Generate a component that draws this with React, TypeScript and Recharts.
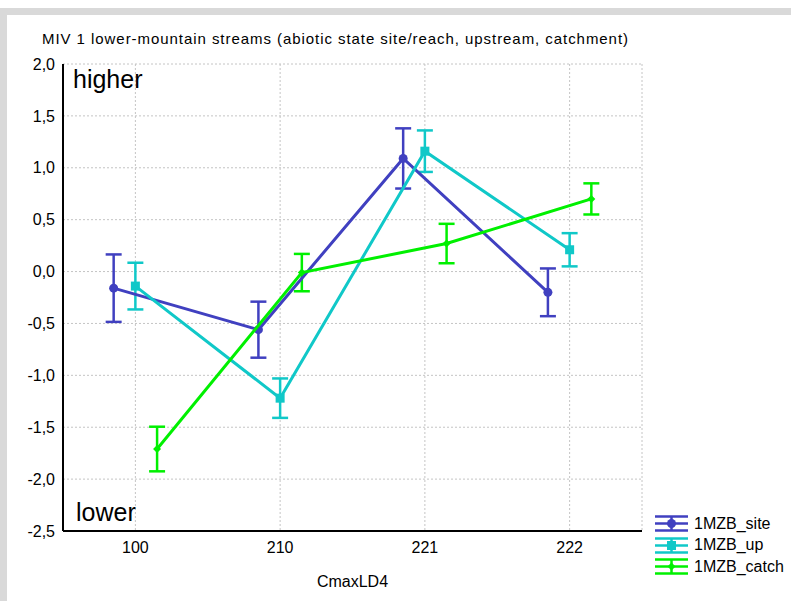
import React from 'react';
import { ScatterChart, Scatter, XAxis, YAxis, CartesianGrid, ErrorBar } from 'recharts';

// CmaxLD4 classes on the x axis
const categories = ['100', '210', '221', '222'];

// means and error half-widths
const siteMeans = [-0.16, -0.56, 1.09, -0.2];
const siteErrors = [0.325, 0.27, 0.29, 0.23];
const upMeans = [-0.14, -1.22, 1.16, 0.21];
const upErrors = [0.225, 0.19, 0.2, 0.16];
const catchMeans = [-1.71, -0.01, 0.27, 0.7];
const catchErrors = [0.215, 0.18, 0.19, 0.15];

const yTicks = [-2.5, -2, -1.5, -1, -0.5, 0, 0.5, 1, 1.5, 2];

const FONT = '"Liberation Sans", Arial, sans-serif';

const series = [
  { name: '1MZB_site', color: '#4040c0', marker: 'circle', shift: -0.15, means: siteMeans, errors: siteErrors },
  { name: '1MZB_up', color: '#10c8c8', marker: 'square', shift: 0, means: upMeans, errors: upErrors },
  { name: '1MZB_catch', color: '#00f000', marker: 'diamond', shift: 0.15, means: catchMeans, errors: catchErrors },
];

const drawMarker = (kind: string, color: string, cx: number, cy: number) => {
  if (kind === 'circle') return <circle cx={cx} cy={cy} r={4.5} fill={color} />;
  if (kind === 'square') return <rect x={cx - 4.5} y={cy - 4.5} width={9} height={9} fill={color} />;
  return <path d={`M${cx} ${cy - 4}L${cx + 4} ${cy}L${cx} ${cy + 4}L${cx - 4} ${cy}Z`} fill={color} />;
};

const fmt = (v: number) => v.toFixed(1).replace('.', ',');

const LegendIcon = ({ color, marker }: { color: string; marker: string }) => (
  <svg width={33} height={17} style={{ display: 'block' }}>
    <line x1={0} y1={1.5} x2={33} y2={1.5} stroke={color} strokeWidth={2.5} />
    <line x1={0} y1={8.5} x2={33} y2={8.5} stroke={color} strokeWidth={2.5} />
    <line x1={0} y1={15.5} x2={33} y2={15.5} stroke={color} strokeWidth={2.5} />
    <line x1={16.5} y1={1} x2={16.5} y2={16} stroke={color} strokeWidth={2.5} />
    {drawMarker(marker, color, 16.5, 8.5)}
  </svg>
);

export default function App() {
  return (
    <div style={{ position: 'fixed', left: 0, top: 0, width: 791, height: 601, background: '#fff', fontFamily: FONT }}>
      <div style={{ position: 'absolute', left: 0, top: 8, width: 791, height: 7, background: '#d9d9d9' }} />
      <div style={{ position: 'absolute', left: 0, top: 8, width: 7, height: 593, background: '#d9d9d9' }} />

      <svg width={791} height={60} style={{ position: 'absolute', left: 0, top: 0 }}>
        <text x={42} y={44} fontSize={15} fontFamily={FONT} textLength={586} lengthAdjust="spacing" fill="#000">
          MIV 1 lower-mountain streams (abiotic state site/reach, upstream, catchment)
        </text>
      </svg>

      <div style={{ position: 'absolute', left: 0, top: 0 }}>
        <ScatterChart width={791} height={601} margin={{ top: 64, right: 149, bottom: 0, left: 0 }}>
          <CartesianGrid stroke="#c4c4c4" strokeDasharray="2 2" />
          <XAxis
            type="number"
            dataKey="x"
            domain={[-0.5, 3.5]}
            ticks={[0, 1, 2, 3]}
            tickFormatter={(v: number) => categories[v] ?? ''}
            height={70}
            tickLine={false}
            tickMargin={5}
            axisLine={{ stroke: '#000', strokeWidth: 2 }}
            tick={{ fontSize: 16, fill: '#000', fontFamily: FONT }}
            label={{ value: 'CmaxLD4', position: 'insideBottom', offset: 14, fontSize: 16, fill: '#000', fontFamily: FONT }}
          />
          <XAxis
            xAxisId="top"
            orientation="top"
            type="number"
            domain={[-0.5, 3.5]}
            height={0}
            tick={false}
            tickLine={false}
            axisLine={{ stroke: '#000', strokeWidth: 2 }}
          />
          <YAxis
            type="number"
            dataKey="y"
            domain={[-2.5, 2]}
            ticks={yTicks}
            tickFormatter={fmt}
            width={63}
            tickLine={false}
            allowDataOverflow
            axisLine={{ stroke: '#000', strokeWidth: 2 }}
            tick={{ fontSize: 16, fill: '#000', fontFamily: FONT }}
          />
          <YAxis
            yAxisId="right"
            orientation="right"
            type="number"
            domain={[-2.5, 2]}
            width={0}
            tick={false}
            tickLine={false}
            axisLine={{ stroke: '#000', strokeWidth: 2 }}
          />
          {series.map((s) => (
            <Scatter
              key={s.name}
              name={s.name}
              data={s.means.map((m, i) => ({ x: i + s.shift, y: m, err: s.errors[i] }))}
              line={{ stroke: s.color, strokeWidth: 3 }}
              shape={(p: any) => drawMarker(s.marker, s.color, p.cx, p.cy)}
              isAnimationActive={false}
            >
              <ErrorBar dataKey="err" direction="y" width={8} strokeWidth={2.5} stroke={s.color} isAnimationActive={false} />
            </Scatter>
          ))}
        </ScatterChart>
      </div>

      <div style={{ position: 'absolute', left: 73, top: 64, fontSize: 25, lineHeight: '30px' }}>higher</div>
      <div style={{ position: 'absolute', left: 76, top: 497, fontSize: 25, lineHeight: '30px' }}>lower</div>

      <div style={{ position: 'absolute', left: 655, top: 513 }}>
        {series.map((s) => (
          <div key={s.name} style={{ display: 'flex', alignItems: 'center', height: 21.5 }}>
            <LegendIcon color={s.color} marker={s.marker} />
            <span style={{ marginLeft: 6, fontSize: 16 }}>{s.name}</span>
          </div>
        ))}
      </div>
    </div>
  );
}
